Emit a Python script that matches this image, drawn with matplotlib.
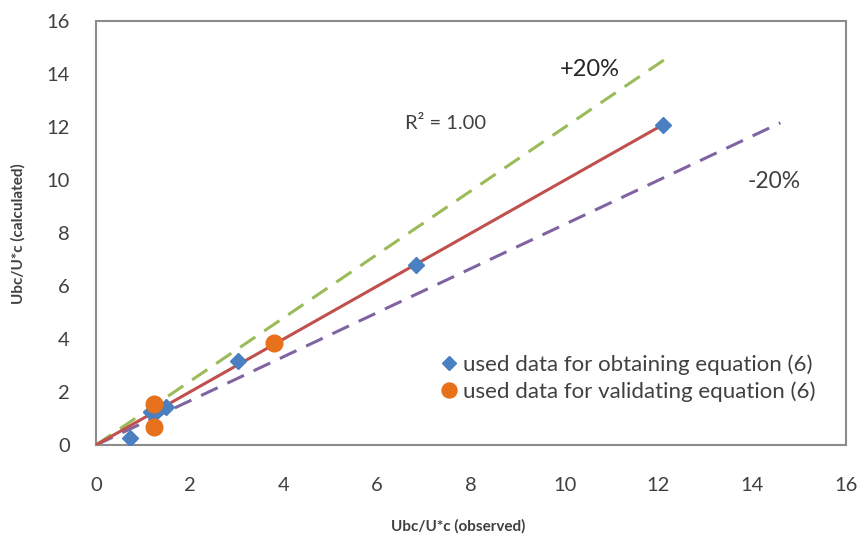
import matplotlib
matplotlib.use("Agg")
import matplotlib.pyplot as plt
import numpy as np

plt.rcParams['font.family'] = ['Lato', 'DejaVu Sans']

# data
obt_x = [0.72, 1.17, 1.30, 1.49, 3.03, 6.83, 12.10]
obt_y = [0.25, 1.25, 1.30, 1.45, 3.17, 6.80, 12.10]
val_x = [1.24, 1.24, 3.80]
val_y = [1.55, 0.68, 3.87]
fit_x = [0.0, 12.1]
plus_x = [0.0, 12.2]
minus_x = [0.0, 14.6]
ticks = [0, 2, 4, 6, 8, 10, 12, 14, 16]

fig = plt.figure(figsize=(8.65, 5.39), dpi=100)
ax = fig.add_axes([0.111, 0.1744, 0.867, 0.786])

lw = 2.2
ax.plot(plus_x, [1.2 * v for v in plus_x], color='#9BBB59', lw=lw, ls=(0, (6, 3.5)), zorder=2)
ax.plot(minus_x, [v / 1.2 for v in minus_x], color='#8064A2', lw=lw, ls=(0, (6, 3.5)), zorder=2)
ax.plot(fit_x, fit_x, color='#C0504D', lw=lw, zorder=3)

ax.plot(obt_x, obt_y, ls='none', marker='D', ms=8, color='#4A7FC1',
        label='used data for obtaining equation (6)', zorder=4)
ax.plot(val_x, val_y, ls='none', marker='o', ms=12, color='#E8711C',
        label='used data for validating equation (6)', zorder=5)

ax.set_xlim(0, 16)
ax.set_ylim(0, 16)
ax.set_xticks(ticks)
ax.set_yticks(ticks)
ax.tick_params(length=0, labelsize=14.5, colors='#404040')
ax.tick_params(axis='x', pad=23)
ax.tick_params(axis='y', pad=19)
for s in ax.spines.values():
    s.set_color('#8C8C8C')
    s.set_linewidth(1.5)

ax.set_xlabel('Ubc/U*c (observed)', fontsize=11, fontweight='bold', color='#404040', labelpad=17)
ax.xaxis.set_label_coords(0.483, -0.175)
ax.set_ylabel('Ubc/U*c (calculated)', fontsize=11, fontweight='bold', color='#404040', labelpad=15)

ax.text(9.9, 14.17, '+20%', fontsize=17, color='#262626', va='center')
ax.text(13.9, 9.94, '-20%', fontsize=16.5, color='#404040', va='center')
ax.text(6.6, 12.13, 'R² = 1.00', fontsize=14.5, color='#404040', va='center')

leg = ax.legend(loc='lower right', bbox_to_anchor=(0.971, 0.081), frameon=False,
                fontsize=16, handletextpad=0.15, handlelength=0.9, labelspacing=0.3,
                borderaxespad=0, markerscale=0.9)
for t in leg.get_texts():
    t.set_color('#404040')

fig.savefig('out.png', dpi=100)
